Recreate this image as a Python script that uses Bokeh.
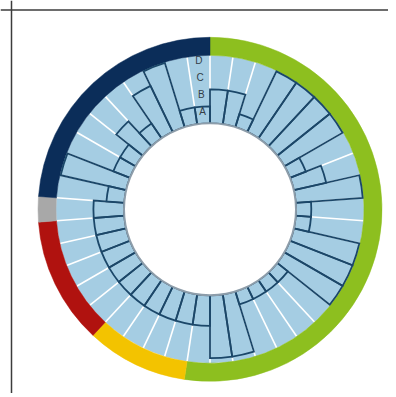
import numpy as np
from bokeh.plotting import figure
from bokeh.models import ColumnDataSource, Span, Range1d
from bokeh.core.properties import value
from bokeh.embed import file_html
from bokeh.resources import INLINE

# ---- data ----
# height of every leaf, in level units (A=1, B=2, C=3, D=4), clockwise from 12 o'clock
leaf_heights = [2.0, 2.0, 0.8, 3.95, 3.95, 3.95, 3.95, 1.0, 1.95, 3.95,
                0.9, 0.9, 3.95, 3.95, 3.95, 0.8, 0.8, 0.8, 0.8, 3.7,
                3.7, 1.8, 1.8, 1.8, 1.8, 1.8, 1.8, 1.8, 1.8, 1.8,
                1.8, 1.8, 1.05, 3.95, 1.05, 1.05, 2.0, 1.05, 3.0, 3.95,
                1.0, 1.0]
group_names = ["green", "yellow", "red", "grey", "navy"]
group_sizes = [22, 4, 5, 1, 10]
group_colors = ["#8dbf1f", "#f3c300", "#b0120f", "#a8a8a8", "#0b2d59"]
level_labels = ["A", "B", "C", "D"]
level_values = [1, 2, 3, 4]

# ---- styling / geometry ----
R0 = 86.0        # inner radius
STEP = 17.0      # radius per level
R_IN = 154.0     # ring inner radius
R_OUT = 172.0    # ring outer radius
BLUE = "#a5cde3"
DARK = "#1b4769"

n = len(leaf_heights)
w = 2 * np.pi / n
idx = np.arange(n)
theta0 = idx * w              # clockwise from top
theta1 = (idx + 1) * w

H = 393
p = figure(width=388, height=H, output_backend="svg", toolbar_location=None,
           x_axis_location=None, y_axis_location=None,
           x_range=Range1d(-209.5, 178.5), y_range=Range1d(208.8 - H, 208.8),
           min_border=0)
p.grid.visible = False
p.outline_line_color = None
p.background_fill_color = "white"
p.border_fill_color = "white"

# light blue band
p.annulus(x=0, y=0, inner_radius=R0, outer_radius=R_IN, fill_color=BLUE, line_color=None)

# white leaf separators
bt = np.arange(n) * w
sep = ColumnDataSource(dict(x0=R0 * np.sin(bt), y0=R0 * np.cos(bt),
                            x1=R_IN * np.sin(bt), y1=R_IN * np.cos(bt)))
p.segment(x0="x0", y0="y0", x1="x1", y1="y1", source=sep, line_color="white", line_width=1.6)

# outer coloured ring
sizes = np.array(group_sizes)
g_end = np.cumsum(sizes) * w
g_start = g_end - sizes * w
ring = ColumnDataSource(dict(start=np.pi / 2 - g_end, end=np.pi / 2 - g_start,
                             color=group_colors, name=group_names))
p.annular_wedge(x=0, y=0, inner_radius=R_IN, outer_radius=R_OUT, start_angle="start",
                end_angle="end", fill_color="color", line_color="color", line_width=0.5,
                source=ring)

# dark outlines of every leaf's box
bars = ColumnDataSource(dict(outer=R0 + np.array(leaf_heights) * STEP,
                             start=np.pi / 2 - theta1, end=np.pi / 2 - theta0))
p.annular_wedge(x=0, y=0, inner_radius=R0, outer_radius="outer", start_angle="start",
                end_angle="end", fill_color=None, line_color=DARK, line_width=1.8,
                line_join="miter", source=bars)

# inner hole
p.circle(x=0, y=0, radius=R0, fill_color="white", line_color="#8d9daa", line_width=2)

# level labels, placed in the last leaf
lab_t = (n - 0.5) * w
lab_r = R0 + (np.array(level_values) - 0.3) * STEP
labs = ColumnDataSource(dict(x=lab_r * np.sin(lab_t), y=lab_r * np.cos(lab_t), t=level_labels))
p.text(x="x", y="y", text="t", source=labs, text_font=value("Liberation Sans"),
       text_font_size="10px", text_color="#333d47", text_align="center",
       text_baseline="middle")

# frame (left and top edges visible in the reference)
p.add_layout(Span(location=-198.5, dimension="height", line_color="#3c3c3c", line_width=1.5))
p.add_layout(Span(location=199.3, dimension="width", line_color="#3c3c3c", line_width=1.5))

open("out.html", "w").write(file_html(p, INLINE))
